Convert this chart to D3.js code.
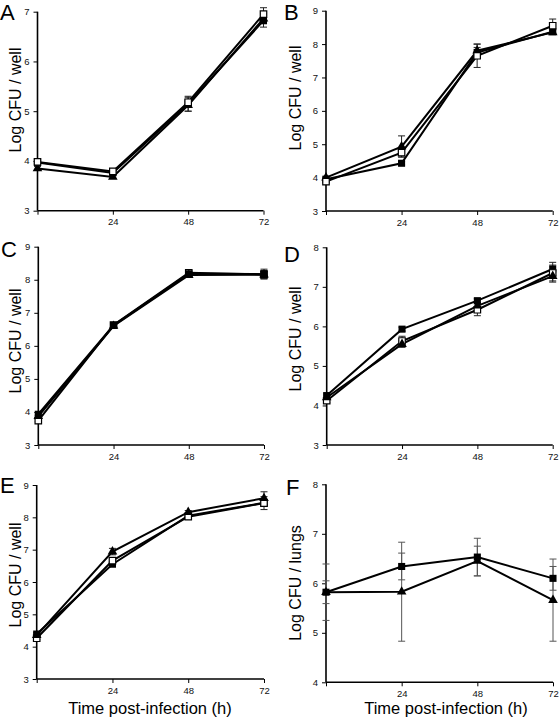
<!DOCTYPE html>
<html><head><meta charset="utf-8">
<script src="https://cdn.jsdelivr.net/npm/d3@7"></script>
<style>
html,body{margin:0;padding:0;background:#fff;}
svg{display:block;font-family:"Liberation Sans",Arial,sans-serif;}
</style></head>
<body>
<svg id="chart" width="560" height="723"></svg>
<script>
// ---------------- DATA ----------------
const hours = [0, 24, 48, 72];
const xTickLabels = ["", "24", "48", "72"];
const panelLetters = ["A", "B", "C", "D", "E", "F"];
const yLabels = ["Log CFU / well", "Log CFU / well", "Log CFU / well", "Log CFU / well", "Log CFU / well", "Log CFU / lungs"];
const xTitle = "Time post-infection (h)";

// Panel A
const aFilledSq = [3.97, 3.76, 5.15, 6.82];
const aFilledSqErr = [0.04, 0.04, 0.15, 0.13];
const aOpenSq = [3.98, 3.79, 5.18, 6.95];
const aOpenSqErr = [0.04, 0.04, 0.10, 0.13];
const aTriangle = [3.85, 3.68, 5.12, 6.86];
const aTriangleErr = [0.04, 0.03, 0.12, 0.10];
const aTicks = [3, 4, 5, 6, 7];

// Panel B
const bFilledSq = [3.95, 4.43, 7.75, 8.37];
const bFilledSqErr = [0.04, 0.05, 0.15, 0.07];
const bOpenSq = [3.88, 4.75, 7.65, 8.55];
const bOpenSqErr = [0.04, 0.10, 0.35, 0.20];
const bTriangle = [4.00, 4.93, 7.80, 8.35];
const bTriangleErr = [0.04, 0.32, 0.20, 0.05];
const bTicks = [3, 4, 5, 6, 7, 8, 9];

// Panel C
const cFilledSq = [3.93, 6.62, 8.18, 8.17];
const cFilledSqErr = [0.04, 0.05, 0.05, 0.15];
const cOpenSq = [3.74, 6.63, 8.21, 8.16];
const cOpenSqErr = [0.04, 0.05, 0.05, 0.12];
const cTriangle = [3.87, 6.60, 8.14, 8.15];
const cTriangleErr = [0.04, 0.05, 0.05, 0.10];
const cTicks = [3, 4, 5, 6, 7, 8, 9];

// Panel D
const dFilledSq = [4.25, 5.93, 6.65, 7.45];
const dFilledSqErr = [0.04, 0.05, 0.05, 0.17];
const dOpenSq = [4.12, 5.63, 6.42, 7.35];
const dOpenSqErr = [0.05, 0.12, 0.15, 0.20];
const dTriangle = [4.20, 5.55, 6.52, 7.27];
const dTriangleErr = [0.04, 0.08, 0.08, 0.15];
const dTicks = [3, 4, 5, 6, 7, 8];

// Panel E
const eFilledSq = [4.39, 6.55, 8.05, 8.45];
const eFilledSqErr = [0.04, 0.05, 0.05, 0.10];
const eOpenSq = [4.26, 6.66, 8.02, 8.44];
const eOpenSqErr = [0.04, 0.06, 0.05, 0.20];
const eTriangle = [4.35, 6.94, 8.16, 8.59];
const eTriangleErr = [0.04, 0.10, 0.05, 0.20];
const eTicks = [3, 4, 5, 6, 7, 8, 9];

// Panel F (in vivo, two series)
const fFilledSq = [5.82, 6.34, 6.53, 6.10];
const fFilledSqErr = [0.23, 0.27, 0.38, 0.24];
const fTriangle = [5.82, 5.83, 6.45, 5.66];
const fTriangleErr = [0.57, 1.00, 0.30, 0.83];
const fTicks = [4, 5, 6, 7, 8];

// ---------------- LAYOUT ----------------
const layout = [
  {x0: 37.5, x1: 263.5, y0: 11.7, y1: 210.7, lx: 0,   ly: 20,  labX: 21,  labY: 100},
  {x0: 326,  x1: 552.7, y0: 10.7, y1: 211,   lx: 284, ly: 20,  labX: 301, labY: 98},
  {x0: 38.3, x1: 264,   y0: 246.7, y1: 445,  lx: 1,   ly: 257, labX: 21,  labY: 341},
  {x0: 326.7,x1: 552.7, y0: 247.3, y1: 445,  lx: 284, ly: 262, labX: 301, labY: 339},
  {x0: 36.7, x1: 264,   y0: 485,  y1: 679,   lx: 0,   ly: 493, labX: 21,  labY: 575},
  {x0: 326,  x1: 553,   y0: 484.3, y1: 682.3,lx: 286, ly: 495, labX: 301, labY: 583}
];

const panels = [
  {ticks: aTicks, series: [
    {shape: "fsq", v: aFilledSq, e: aFilledSqErr},
    {shape: "tri", v: aTriangle, e: aTriangleErr},
    {shape: "osq", v: aOpenSq, e: aOpenSqErr}]},
  {ticks: bTicks, series: [
    {shape: "fsq", v: bFilledSq, e: bFilledSqErr},
    {shape: "tri", v: bTriangle, e: bTriangleErr},
    {shape: "osq", v: bOpenSq, e: bOpenSqErr}]},
  {ticks: cTicks, series: [
    {shape: "osq", v: cOpenSq, e: cOpenSqErr},
    {shape: "fsq", v: cFilledSq, e: cFilledSqErr},
    {shape: "tri", v: cTriangle, e: cTriangleErr}]},
  {ticks: dTicks, series: [
    {shape: "fsq", v: dFilledSq, e: dFilledSqErr},
    {shape: "osq", v: dOpenSq, e: dOpenSqErr},
    {shape: "tri", v: dTriangle, e: dTriangleErr}]},
  {ticks: eTicks, series: [
    {shape: "fsq", v: eFilledSq, e: eFilledSqErr},
    {shape: "osq", v: eOpenSq, e: eOpenSqErr},
    {shape: "tri", v: eTriangle, e: eTriangleErr}]},
  {ticks: fTicks, series: [
    {shape: "fsq", v: fFilledSq, e: fFilledSqErr},
    {shape: "tri", v: fTriangle, e: fTriangleErr}], errColor: "#555"}
];

const svg = d3.select("#chart");

panels.forEach((p, i) => {
  const L = layout[i];
  const x = d3.scaleLinear().domain([0, 72]).range([L.x0, L.x1]);
  const y = d3.scaleLinear().domain(d3.extent(p.ticks)).range([L.y1, L.y0]);
  const g = svg.append("g");

  // axes
  const yAxis = d3.axisLeft(y).tickValues(p.ticks).tickFormat(d3.format("d")).tickSize(4).tickPadding(4);
  const gy = g.append("g").attr("transform", `translate(${L.x0},0)`).call(yAxis);
  const xAxis = d3.axisBottom(x).tickValues(hours).tickFormat((d, k) => xTickLabels[k]).tickSize(4).tickPadding(4);
  const gx = g.append("g").attr("transform", `translate(0,${L.y1})`).call(xAxis);
  [gx, gy].forEach(a => {
    a.select(".domain").attr("stroke", "#000").attr("stroke-width", 1.6);
    a.selectAll(".tick line").attr("stroke", "#000").attr("stroke-width", 1);
    a.selectAll(".tick text").attr("font-size", 9.5).attr("fill", "#111")
      .attr("font-family", "'Liberation Sans', Arial, sans-serif");
  });
  gx.select(".domain").attr("d", `M${L.x0},0H${L.x1}`);
  gy.select(".domain").attr("d", `M0,${L.y1}V${L.y0}`);

  // error bars
  const errCol = p.errColor || "#222";
  p.series.forEach(s => {
    const eg = g.append("g").attr("stroke", errCol).attr("stroke-width", 1).attr("fill", "none");
    s.v.forEach((v, k) => {
      const cx = x(hours[k]), top = y(v + s.e[k]), bot = y(v - s.e[k]);
      eg.append("line").attr("x1", cx).attr("x2", cx).attr("y1", top).attr("y2", bot);
      eg.append("line").attr("x1", cx - 3.5).attr("x2", cx + 3.5).attr("y1", top).attr("y2", top);
      eg.append("line").attr("x1", cx - 3.5).attr("x2", cx + 3.5).attr("y1", bot).attr("y2", bot);
    });
  });

  // lines
  const line = d3.line().x((d, k) => x(hours[k])).y(d => y(d));
  p.series.forEach(s => {
    g.append("path").datum(s.v).attr("d", line)
      .attr("fill", "none").attr("stroke", "#000").attr("stroke-width", 2).attr("stroke-linejoin", "miter");
  });

  // markers
  const sq = d3.symbol().type(d3.symbolSquare).size(50);
  const tri = d3.symbol().type(d3.symbolTriangle).size(40);
  p.series.forEach(s => {
    s.v.forEach((v, k) => {
      const m = g.append("path")
        .attr("transform", `translate(${x(hours[k])},${y(v)})`);
      if (s.shape === "tri") {
        m.attr("d", tri()).attr("fill", "#000");
      } else if (s.shape === "fsq") {
        m.attr("d", sq()).attr("fill", "#000");
      } else {
        m.attr("d", d3.symbol().type(d3.symbolSquare).size(42)()).attr("fill", "#fff")
          .attr("stroke", "#000").attr("stroke-width", 1.2);
      }
    });
  });

  // panel letter
  svg.append("text").attr("x", L.lx).attr("y", L.ly).text(panelLetters[i])
    .attr("font-size", 22).attr("fill", "#000");
  // y label
  svg.append("text").attr("transform", `translate(${L.labX},${L.labY}) rotate(-90)`)
    .attr("text-anchor", "middle").attr("font-size", 16).attr("fill", "#000").text(yLabels[i]);
});

// x titles
[150, 446].forEach(cx => {
  svg.append("text").attr("x", cx).attr("y", 714).attr("text-anchor", "middle")
    .attr("font-size", 16.5).attr("fill", "#000").text(xTitle);
});
</script>
</body></html>
